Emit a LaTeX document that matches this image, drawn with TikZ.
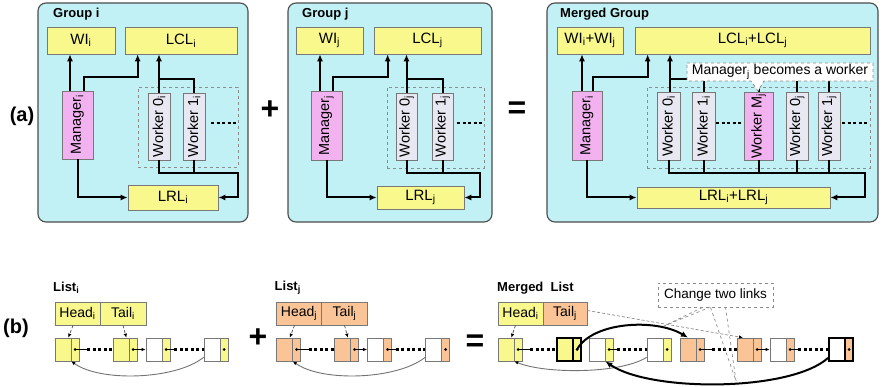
\documentclass[tikz,border=0pt]{standalone}
\usepackage{fontspec}
\setmainfont{Liberation Sans}
\usetikzlibrary{arrows.meta}
\definecolor{panelc}{RGB}{193,240,245}
\definecolor{yelc}{RGB}{248,248,140}
\definecolor{magc}{RGB}{242,178,240}
\definecolor{wrkc}{RGB}{232,232,242}
\definecolor{orc}{RGB}{250,196,150}
\definecolor{edgec}{RGB}{120,120,120}
\newcommand\mybox[7]{\node[#1, minimum width={(#5)-(#3)}, minimum height={(#6)-(#4)}] (#2) at ({((#3)+(#5))/2},{((#4)+(#6))/2}) {#7};}
\newcommand\lstnode[6]{%
  \node[lcell, fill=#4, minimum width=16, minimum height=23, #6] (#1l) at ({#2+8},{#3+11.5}) {};
  \node[lcell, fill=#5, minimum width=8, minimum height=23, #6] (#1r) at ({#2+20},{#3+11.5}) {};
  \fill (#1r.center) circle (1.5);}
\newcommand\mklist[4]{%
\begin{scope}[xshift=#2]
  \node[ltitle] (#1title) at (53,288) {List\textsubscript{#4}};
  \mybox{hcell, fill=#3}{#1h}{55}{302}{100}{325}{Head\textsubscript{#4}}
  \mybox{hcell, fill=#3}{#1t}{100}{302}{146}{325}{Tail\textsubscript{#4}}
  \lstnode{#1a}{55}{338}{#3}{#3}{}
  \lstnode{#1b}{113}{338}{#3}{#3}{}
  \lstnode{#1c}{146}{338}{white}{#3}{}
  \lstnode{#1d}{204}{338}{white}{#3}{}
  \draw[thinl] (#1ar.center) -- ++(12,0) coordinate (#1c1);
  \draw[dotl] (#1c1) -- (#1bl.west);
  \draw[thinl, tipS] (#1br.center) -- (#1cl.west);
  \draw[thinl] (#1cr.center) -- ++(8,0) coordinate (#1c2);
  \draw[dotl] (#1c2) -- (#1dl.west);
  \draw[grayarr] ([yshift=4]#1dl.south west) .. controls (175,380) and (100,382) .. (#1al.south east);
  \draw[ptr] ([xshift=-4.5]#1h.south) -- ([xshift=-3]#1al.north east);
  \draw[ptr] (#1t.south) -- ([xshift=-3]#1bl.north east);
\end{scope}}
\begin{document}
\begin{tikzpicture}[x=1pt,y=-1pt, font=\fontsize{13.5}{15}\selectfont,
  panel/.style={draw=black!70, fill=panelc, rounded corners=8pt, line width=1.1pt, inner sep=0pt},
  ybox/.style={draw=edgec, fill=yelc, line width=0.7pt, inner sep=0pt, font=\fontsize{15}{17}\selectfont},
  mgr/.style={draw=edgec, fill=magc, line width=0.7pt, inner sep=0pt, font=\fontsize{14.5}{16}\selectfont},
  wrk/.style={draw=edgec, fill=wrkc, line width=0.7pt, inner sep=0pt, font=\fontsize{14.5}{16}\selectfont},
  grp/.style={draw=black!45, dashed, line width=0.8pt, inner sep=0pt},
  conn/.style={line width=2pt, black},
  arr/.style={conn, -{Latex[length=7pt,width=6pt]}},
  dotl/.style={line width=2.2pt, dash pattern=on 3pt off 2.5pt},
  ttl/.style={font=\fontsize{13}{15}\selectfont\bfseries, anchor=west, inner sep=0pt},
  ltitle/.style={font=\fontsize{13}{15}\selectfont\bfseries, anchor=west, inner sep=0pt},
  big/.style={font=\fontsize{32}{34}\selectfont\bfseries, inner sep=0pt},
  lab/.style={font=\fontsize{20}{22}\selectfont\bfseries, inner sep=0pt},
  hcell/.style={draw=edgec, line width=0.7pt, inner sep=0pt, font=\fontsize{14}{16}\selectfont},
  lcell/.style={draw=edgec, line width=0.7pt, inner sep=0pt},
  thk/.style={draw=black, line width=1.8pt},
  thinl/.style={line width=0.7pt, black},
  tipS/.style={-{Latex[length=4pt,width=3.5pt]}},
  grayarr/.style={line width=0.9pt, black!55, -{Latex[length=4pt,width=3.5pt,color=black]}},
  ptr/.style={line width=0.7pt, black!70, densely dashed, -{Latex[length=4pt,width=3.5pt,color=black]}},
  thkarr/.style={line width=2pt, black, -{Latex[length=7pt,width=6pt]}},
  wedge/.style={draw=black!45, dashed, line width=0.7pt},
  callb/.style={draw=black!45, dashed, line width=0.8pt, fill=white, inner sep=0pt}
]
\useasboundingbox (0,0) rectangle (884,387);

% ---------------- Group i
\mybox{panel}{gi}{38}{3}{248}{222}{}
\node[ttl] (git) at (53,14) {Group i};
\mybox{ybox}{wii}{47}{27}{115}{54}{WI\textsubscript{i}}
\mybox{ybox}{lcli}{125}{27}{237}{54}{LCL\textsubscript{i}}
\mybox{grp}{dbi}{138}{87}{238}{167}{}
\mybox{mgr}{mi}{62}{91}{93}{159}{\rotatebox{90}{Manager\textsubscript{i}}}
\mybox{wrk}{w0i}{148}{93}{170}{160}{\rotatebox{90}{Worker 0\textsubscript{i}}}
\mybox{wrk}{w1i}{183}{93}{205}{160}{\rotatebox{90}{Worker 1\textsubscript{i}}}
\mybox{ybox}{lrli}{128}{185}{218}{210}{LRL\textsubscript{i}}
\draw[dotl] (211,123) -- (236,123);
\draw[arr] ([xshift=-7.5]mi.north) -- ([xshift=-7.5]mi.north |- wii.south);
\draw[arr] ([xshift=6]mi.north) -- ++(0,-14) -| ([xshift=13]lcli.south west);
\draw[arr] (w0i.north) -- (w0i.north |- lcli.south);
\draw[conn] (w1i.north) -- ++(0,-14) -| (w0i.north);
\draw[arr] (mi.south) |- (lrli.west);
\draw[arr] (w0i.south) -- ++(0,13) -| ([xshift=20]lrli.east) -- (lrli.east);
\draw[conn] (w1i.south) -- ++(0,13);

% ---------------- Group j
\mybox{panel}{gj}{288}{3}{492}{222}{}
\node[ttl] (gjt) at (302,14) {Group j};
\mybox{ybox}{wij}{296}{27}{363}{54}{WI\textsubscript{j}}
\mybox{ybox}{lclj}{374}{27}{481}{54}{LCL\textsubscript{j}}
\mybox{grp}{dbj}{387}{87}{484}{168}{}
\mybox{mgr}{mj}{311}{91}{342}{160}{\rotatebox{90}{Manager\textsubscript{j}}}
\mybox{wrk}{w0j}{396}{93}{417}{160}{\rotatebox{90}{Worker 0\textsubscript{j}}}
\mybox{wrk}{w1j}{432}{93}{453}{160}{\rotatebox{90}{Worker 1\textsubscript{j}}}
\mybox{ybox}{lrlj}{377}{186}{464}{209}{LRL\textsubscript{j}}
\draw[dotl] (457,123) -- (482,123);
\draw[arr] ([xshift=-6.5]mj.north) -- ([xshift=-6.5]mj.north |- wij.south);
\draw[arr] ([xshift=6.5]mj.north) -- ++(0,-14) -| ([xshift=14]lclj.south west);
\draw[arr] (w0j.north) -- (w0j.north |- lclj.south);
\draw[conn] (w1j.north) -- ++(0,-14) -| (w0j.north);
\draw[arr] (mj.south) |- (lrlj.west);
\draw[arr] (w0j.south) -- ++(0,13) -| ([xshift=16]lrlj.east) -- (lrlj.east);
\draw[conn] (w1j.south) -- ++(0,13);

% ---------------- Merged group
\mybox{panel}{gm}{547}{3}{878}{222}{}
\node[ttl] (gmt) at (560,14) {Merged Group};
\mybox{ybox}{wim}{557}{27}{623}{54}{WI\textsubscript{i}+WI\textsubscript{j}}
\mybox{ybox}{lclm}{635}{27}{870}{54}{LCL\textsubscript{i}+LCL\textsubscript{j}}
\mybox{grp}{dbm}{647}{87}{870}{168}{}
\mybox{mgr}{mm}{572}{91}{602}{160}{\rotatebox{90}{Manager\textsubscript{i}}}
\mybox{wrk}{w0m}{657}{92}{680}{160}{\rotatebox{90}{Worker 0\textsubscript{i}}}
\mybox{wrk}{w1m}{692}{92}{715}{160}{\rotatebox{90}{Worker 1\textsubscript{i}}}
\mybox{mgr}{wMm}{744}{92}{773}{160}{\rotatebox{90}{Worker M\textsubscript{j}}}
\mybox{wrk}{w0jm}{786}{92}{808}{160}{\rotatebox{90}{Worker 0\textsubscript{j}}}
\mybox{wrk}{w1jm}{818}{92}{840}{160}{\rotatebox{90}{Worker 1\textsubscript{j}}}
\mybox{ybox}{lrlm}{637}{187}{830}{208}{LRL\textsubscript{i}+LRL\textsubscript{j}}
\draw[dotl] (716,123) -- (743,123);
\draw[dotl] (842,123) -- (868,123);
\draw[arr] ([xshift=-5]mm.north) -- ([xshift=-5]mm.north |- wim.south);
\draw[arr] ([xshift=6]mm.north) -- ++(0,-14) -| ([xshift=13]lclm.south west);
\draw[arr] ([xshift=1.5]w0m.north) -- ([xshift=1.5]w0m.north |- lclm.south);
\draw[conn] ([xshift=1.5]w0m.north) -- ++(0,-13) -| (w1jm.north);
\draw[conn] (w1m.north) -- ++(0,-13);
\draw[conn] (wMm.north) -- ++(0,-13);
\draw[conn] (w0jm.north) -- ++(0,-13);
\draw[arr] (mm.south) |- (lrlm.west);
\draw[arr] (w0m.south) -- ++(0,13) -| ([xshift=35]lrlm.east) -- (lrlm.east);
\draw[conn] (w1m.south) -- ++(0,13);
\draw[conn] (wMm.south) -- ++(0,13);
\draw[conn] (w0jm.south) -- ++(0,13);
\draw[conn] (w1jm.south) -- ++(0,13);
\draw[callb] (687,63) -- (873,63) -- (873,81) -- (764,81) -- (758,91) -- (751,81) -- (687,81) -- cycle;
\node[inner sep=0pt, font=\fontsize{14}{16}\selectfont] (callt) at (780,72) {Manager\textsubscript{j} becomes a worker};

% ---------------- signs and labels
\node[lab] (la) at (22,116) {(a)};
\node[big] (plus1) at (270,110) {+};
\node[big] (eq1) at (517,110) {=};
\node[lab] (lb) at (16,328) {(b)};
\node[big] (plus2) at (258,338) {+};
\node[big] (eq2) at (475,343) {=};

% ---------------- Lists
\mklist{li}{0}{yelc}{i}
\mklist{lj}{221.5}{orc}{j}

% ---------------- Merged list
\node[ltitle] (mlt) at (497,288) {Merged\ \ List};
\mybox{hcell, fill=yelc}{mh}{498}{302}{543}{325}{Head\textsubscript{i}}
\mybox{hcell, fill=orc}{mt}{543}{302}{587}{325}{Tail\textsubscript{j}}
\lstnode{m1}{498}{338}{yelc}{yelc}{}
\lstnode{m2}{557}{338}{yelc}{yelc}{thk}
\lstnode{m3}{589}{338}{white}{yelc}{}
\lstnode{m4}{647}{338}{white}{yelc}{}
\lstnode{m5}{680}{338}{orc}{orc}{}
\lstnode{m6}{737}{338}{orc}{orc}{}
\lstnode{m7}{770}{338}{white}{orc}{}
\lstnode{m8}{829}{338}{white}{orc}{thk}
\draw[thinl] (m1r.center) -- ++(12,0) coordinate (m1c);
\draw[dotl] (m1c) -- (m2l.west);
\draw[thinl] (m3r.center) -- ++(8,0) coordinate (m3c);
\draw[dotl] (m3c) -- (m4l.west);
\draw[thinl] (m5r.center) -- ++(12,0) coordinate (m5c);
\draw[dotl] (m5c) -- (m6l.west);
\draw[thinl, tipS] (m6r.center) -- (m7l.west);
\draw[thinl] (m7r.center) -- ++(8,0) coordinate (m7c);
\draw[dotl] (m7c) -- (m8l.west);
\draw[grayarr] ([yshift=4]m4l.south west) .. controls (620,374) and (545,374) .. (m1l.south east);
\draw[ptr] ([xshift=-5]mh.south) -- ([xshift=-3]m1l.north east);
\draw[ptr, black!45] ([yshift=3]mt.east) -- ([xshift=-2]m6l.north);
\draw[thkarr] (m2r.center) .. controls (592,322) and (655,318) .. (m5l.north);
\draw[thkarr] ([yshift=4]m8l.south west) .. controls (790,392) and (650,392) .. (m3l.south east);
\mybox{callb}{ctl}{658}{283}{773}{307}{Change two links}
\coordinate (wup) at (664,326);
\coordinate (wdn) at (736,381);
\draw[wedge] ([xshift=-13]ctl.south) -- (wup) -- ([xshift=-6]ctl.south);
\draw[wedge] ([xshift=-5]ctl.south) -- (wdn) -- ([xshift=10]ctl.south);
\end{tikzpicture}
\end{document}
